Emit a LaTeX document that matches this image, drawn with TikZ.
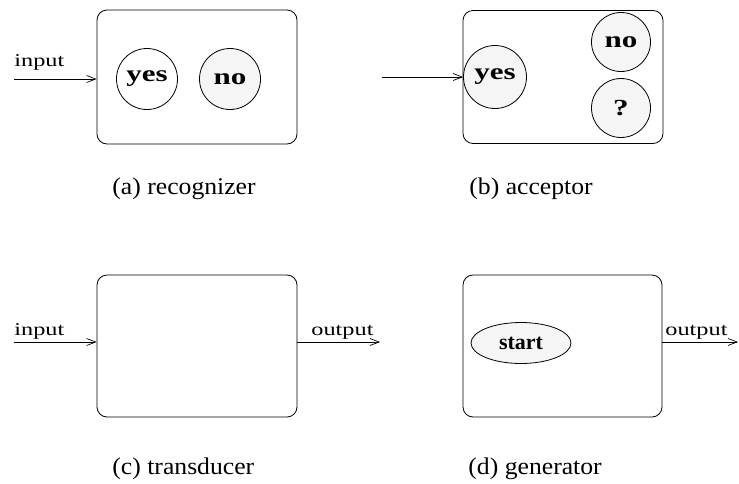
\documentclass[tikz,border=0pt]{standalone}
\usepackage{fontspec}
\setmainfont{Liberation Serif}
\usetikzlibrary{arrows.meta,shapes.geometric}
\newcommand\widetxt[1]{\scalebox{1.35}[1]{#1}}
\newcommand\captxt[1]{\scalebox{1.07}[1]{#1}}
\begin{document}
\begin{tikzpicture}[x=1pt,y=-1pt,
  >={Straight Barb[length=9pt,width=7pt,line width=0.7pt]},
  line width=0.8pt,
  machine/.style={draw,rounded corners=10pt,minimum width=200pt,inner sep=0pt},
  state/.style={draw,circle,minimum size=61pt,inner sep=0pt,font=\fontsize{23}{23}\selectfont\bfseries},
  shaded/.style={fill=black!4},
  portlabel/.style={anchor=base west,inner sep=0pt,font=\fontsize{18}{18}\selectfont},
  caption/.style={anchor=base west,inner sep=0pt,font=\fontsize{24}{24}\selectfont}]
\useasboundingbox (0,0) rectangle (739,483);

% (a) recognizer
\node[machine,minimum height=134pt] (ra) at (197,77) {};
\node[state] (ryes) at (147,79) {\widetxt{yes}};
\node[state,shaded] (rno) at (230,79) {\widetxt{no}};
\coordinate (rin) at (14,79);
\draw[->] (rin) -- (rin -| ra.west);
\node[portlabel] (rinlbl) at (14,66) {\widetxt{input}};
\node[caption] (rcap) at (112,194) {\captxt{(a) recognizer}};

% (b) acceptor
\node[machine,minimum height=133pt] (ac) at (563,77) {};
\node[state,shaded,minimum size=63pt] (ayes) at (495,77) {\widetxt{yes}};
\node[state,shaded,minimum size=59pt] (ano) at (621,42) {\widetxt{no}};
\node[state,shaded,minimum size=59pt] (aq) at (621,108) {\widetxt{?}};
\coordinate (ain) at (382,77);
\draw[->] (ain) -- (ayes.west);
\node[caption] (acap) at (469,194) {\captxt{(b) acceptor}};

% (c) transducer
\node[machine,minimum height=142pt] (tr) at (197,346) {};
\coordinate (tin) at (14,342);
\coordinate (tout) at (380,342);
\draw[->] (tin) -- (tin -| tr.west);
\draw[->] (tout -| tr.east) -- (tout);
\node[portlabel] (tinlbl) at (14,335) {\widetxt{input}};
\node[portlabel] (toutlbl) at (311,335) {\widetxt{output}};
\node[caption] (tcap) at (112,474) {\captxt{(c) transducer}};

% (d) generator
\node[machine,minimum width=199pt,minimum height=142pt] (ge) at (562.5,346) {};
\node[draw,ellipse,shaded,minimum width=100pt,minimum height=41pt,inner sep=0pt,
      font=\fontsize{22}{22}\selectfont\bfseries] (gstart) at (521,343) {start};
\coordinate (gout) at (738,342);
\draw[->] (gout -| ge.east) -- (gout);
\node[portlabel] (goutlbl) at (665,335) {\widetxt{output}};
\node[caption] (gcap) at (468,474) {\captxt{(d) generator}};
\end{tikzpicture}
\end{document}
